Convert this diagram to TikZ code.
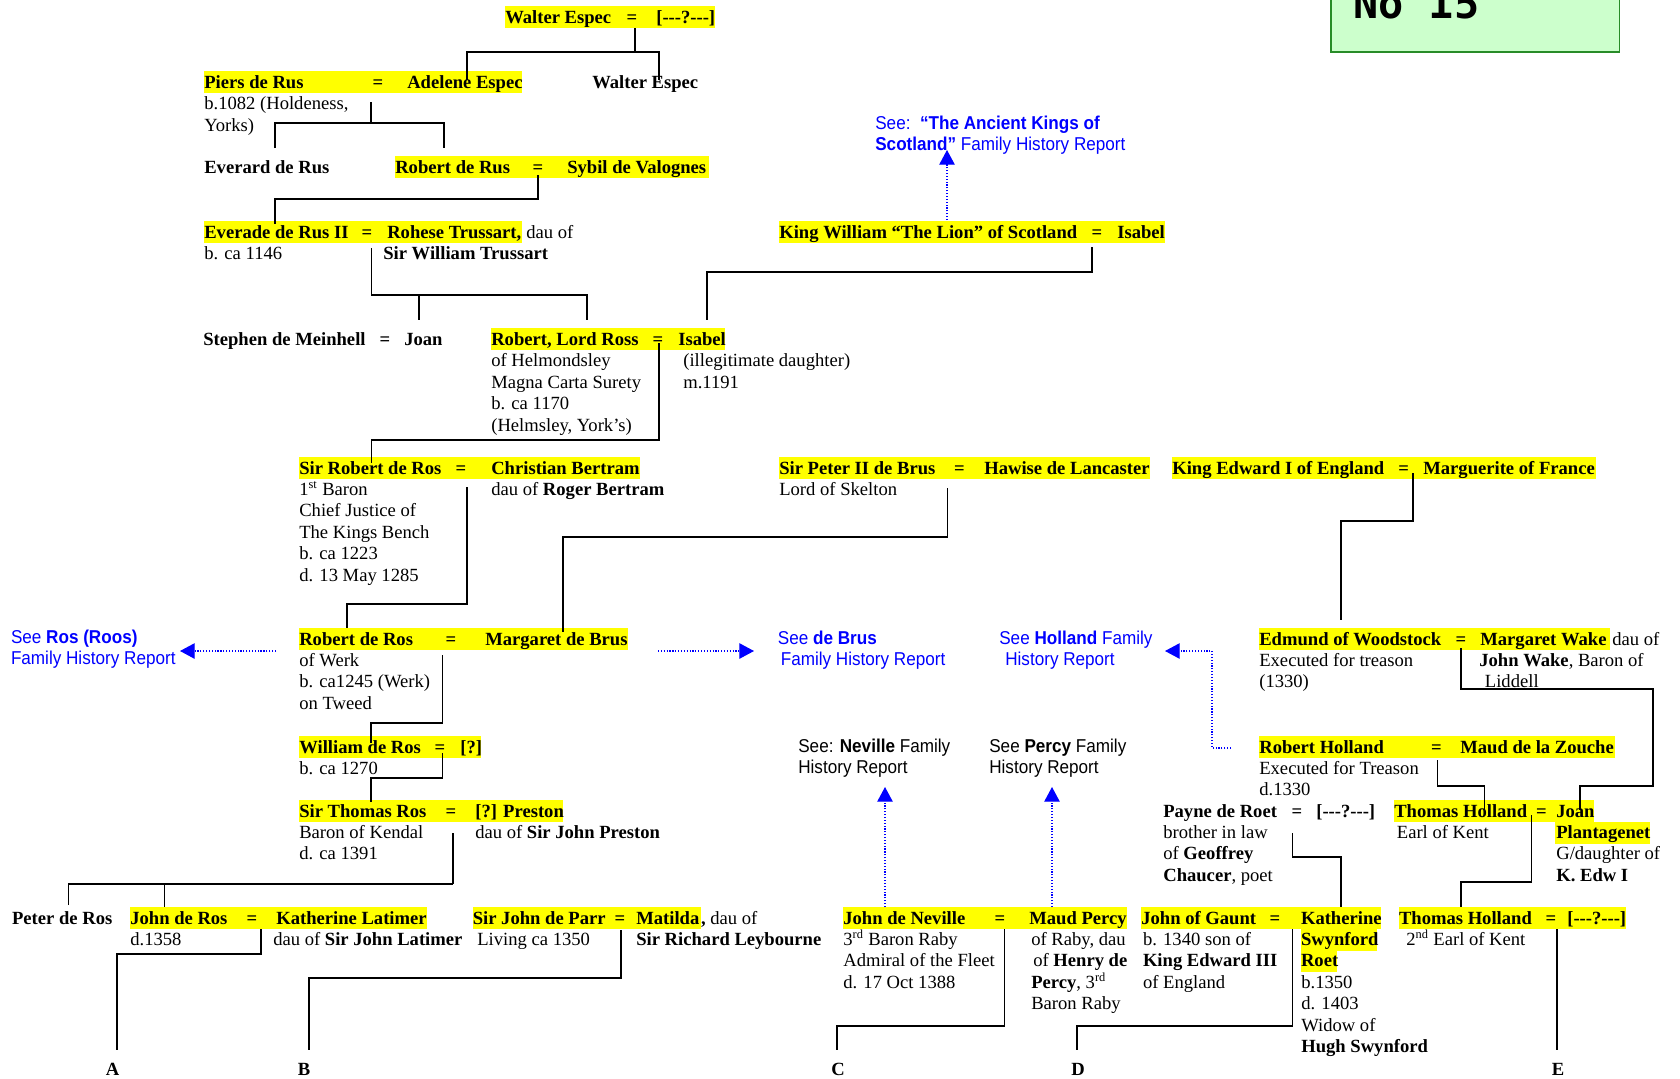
\documentclass[tikz,border=0pt]{standalone}
\usepackage{fontspec}
\setmainfont{Liberation Serif}
\newfontfamily\seefont[FakeStretch=0.92]{Liberation Sans}
\newfontfamily\boxmono{DejaVu Sans Mono}
\usetikzlibrary{arrows.meta}
\definecolor{hly}{RGB}{255,255,0}
\definecolor{boxfill}{RGB}{204,255,204}
\definecolor{boxline}{RGB}{40,140,40}
\definecolor{seeblue}{RGB}{0,0,255}
\newcommand{\hyq}{[-{}-{}-?-{}-{}-]}
\begin{document}
\begin{tikzpicture}[x=0.645pt,y=-0.645pt,
  txt/.style={anchor=base west,inner sep=0pt,font=\fontsize{12}{14}\selectfont},
  bld/.style={anchor=base west,inner sep=0pt,font=\fontsize{12}{14}\selectfont\bfseries},
  eqs/.style={anchor=base,inner sep=0pt,font=\fontsize{12}{14}\selectfont\bfseries},
  see/.style={anchor=base west,inner sep=0pt,font=\fontsize{12}{14}\selectfont\seefont,text=seeblue},
  seek/.style={anchor=base west,inner sep=0pt,font=\fontsize{12}{14}\selectfont\seefont},
  lab/.style={anchor=base,inner sep=0pt,font=\fontsize{12}{14}\selectfont\bfseries},
  hl/.style={fill=hly},
  ln/.style={line width=1pt},
  dotl/.style={draw=seeblue,line width=0.75pt,dash pattern=on 0.75pt off 1.1pt},
  tipa/.style={-{Triangle[length=9.5pt,width=10pt]},arrows={[fill=seeblue,color=seeblue]}}
]
\useasboundingbox (0,0) rectangle (1680,1078);
\clip (0,0) rectangle (1680,1078);

% ---------- No 15 box
\draw[draw=boxline,fill=boxfill,line width=1.2pt] (1331,-30) rectangle (1619.5,52);
\node[anchor=base west,inner sep=0pt,font=\fontsize{27}{30}\selectfont\boxmono\bfseries] (no15) at (1353,18) {No 15};

% ---------- highlights
\fill[hl] (505,6) rectangle (715,28);
\fill[hl] (204,71) rectangle (522,93);
\fill[hl] (395,156) rectangle (709,178);
\fill[hl] (204,221) rectangle (522,243);
\fill[hl] (779,221) rectangle (1165,243);
\fill[hl] (491,328) rectangle (725,350);
\fill[hl] (299,457) rectangle (639.5,479);
\fill[hl] (779,457) rectangle (1150,479);
\fill[hl] (1172,457) rectangle (1596,479);
\fill[hl] (299,628) rectangle (628,650);
\fill[hl] (1259,628) rectangle (1609.5,650);
\fill[hl] (299,736) rectangle (481,758);
\fill[hl] (1259,736) rectangle (1615,758);
\fill[hl] (299,800) rectangle (563,822);
\fill[hl] (1394,800) rectangle (1594,822);
\fill[hl] (1555,822) rectangle (1650,843.5);
\fill[hl] (130,907) rectangle (427,929);
\fill[hl] (472.5,907) rectangle (700.7,929);
\fill[hl] (843,907) rectangle (1126.6,929);
\fill[hl] (1141,907) rectangle (1381,929);
\fill[hl] (1300.7,929) rectangle (1377,950.5);
\fill[hl] (1300.7,950.5) rectangle (1337,972);
\fill[hl] (1398.7,907) rectangle (1626,929);

% ---------- row 1
\node[bld] (we1) at (505,23) {Walter Espec};
\node[eqs] (we1eq) at (632,23) {=};
\node[bld] (we1w) at (656,23) {\hyq};

% ---------- row 2
\node[bld] (piers) at (204,88) {Piers de Rus};
\node[eqs] (pierseq) at (378,88) {=};
\node[bld] (adelene) at (407,88) {Adelene Espec};
\node[bld] (we2) at (592,88) {Walter Espec};
\node[txt] (piers1) at (204,109.5) {b.1082 (Holdeness,};
\node[txt] (piers2) at (204,131) {Yorks)};

% ---------- row 3
\node[bld] (everard) at (204,173) {Everard de Rus};
\node[bld] (robrus) at (395,173) {Robert de Rus};
\node[eqs] (robruseq) at (538,173) {=};
\node[bld] (sybil) at (567,173) {Sybil de Valognes};

% ---------- row 4
\node[bld] (everade) at (204,238) {Everade de Rus II};
\node[eqs] (everadeeq) at (367,238) {=};
\node[bld] (rohese) at (387,238) {Rohese Trussart,};
\node[txt] (rohese0) at (526,238) {dau of};
\node[txt] (everade1) at (204,259.5) {b. ca 1146};
\node[bld] (rohese1) at (383,259.5) {Sir William Trussart};
\node[bld] (kingw) at (779,238) {King William “The Lion” of Scotland};
\node[eqs] (kingweq) at (1097,238) {=};
\node[bld] (isabel1) at (1117,238) {Isabel};
\node[see] (seekings1) at (875,129) {See:\ \ \textbf{“The Ancient Kings of}};
\node[see] (seekings2) at (875,150) {\textbf{Scotland”} Family History Report};

% ---------- row 5
\node[bld] (stephen) at (203,345) {Stephen de Meinhell};
\node[eqs] (stepheneq) at (385,345) {=};
\node[bld] (joan1) at (404,345) {Joan};
\node[bld] (robross) at (491,345) {Robert, Lord Ross};
\node[eqs] (robrosseq) at (658,345) {=};
\node[bld] (isabel2) at (678,345) {Isabel};
\node[txt] (robross1) at (491,366.5) {of Helmondsley};
\node[txt] (robross2) at (491,388) {Magna Carta Surety};
\node[txt] (robross3) at (491,409.5) {b. ca 1170};
\node[txt] (robross4) at (491,431) {(Helmsley, York’s)};
\node[txt] (isabel21) at (683,366.5) {(illegitimate daughter)};
\node[txt] (isabel22) at (683,388) {m.1191};

% ---------- row 6
\node[bld] (sirrob) at (299,474) {Sir Robert de Ros};
\node[eqs] (sirrobeq) at (461,474) {=};
\node[bld] (christian) at (491,474) {Christian Bertram};
\node[txt] (sirrob1) at (299,495.4) {1\textsuperscript{st} Baron};
\node[txt] (sirrob2) at (299,516.8) {Chief Justice of};
\node[txt] (sirrob3) at (299,538.2) {The Kings Bench};
\node[txt] (sirrob4) at (299,559.6) {b. ca 1223};
\node[txt] (sirrob5) at (299,581) {d. 13 May 1285};
\node[txt] (christian1) at (491,495.4) {dau of \textbf{Roger Bertram}};
\node[bld] (peter) at (779,474) {Sir Peter II de Brus};
\node[eqs] (petereq) at (959.5,474) {=};
\node[bld] (hawise) at (984,474) {Hawise de Lancaster};
\node[txt] (peter1) at (779,495.4) {Lord of Skelton};
\node[bld] (edw1) at (1172,474) {King Edward I of England};
\node[eqs] (edw1eq) at (1403.6,474) {=};
\node[bld] (marg) at (1423,474) {Marguerite of France};

% ---------- row 7
\node[see] (seeros1) at (10.7,643) {See \textbf{Ros (Roos)}};
\node[see] (seeros2) at (10.7,664.5) {Family History Report};
\node[bld] (robros) at (299,645) {Robert de Ros};
\node[eqs] (robroseq) at (451,645) {=};
\node[bld] (margbrus) at (485,645) {Margaret de Brus};
\node[txt] (robros1) at (299,666.4) {of Werk};
\node[txt] (robros2) at (299,687.8) {b. ca1245 (Werk)};
\node[txt] (robros3) at (299,709.2) {on Tweed};
\node[see] (seebrus1) at (777.6,644) {See \textbf{de Brus}};
\node[see] (seebrus2) at (780.5,665) {Family History Report};
\node[see] (seeholl1) at (999,644) {See \textbf{Holland} Family};
\node[see] (seeholl2) at (1005,665) {History Report};
\node[bld] (edmund) at (1259,645) {Edmund of Woodstock};
\node[eqs] (edmundeq) at (1461,645) {=};
\node[bld] (wake) at (1480,645) {Margaret Wake};
\node[txt] (wake0) at (1612,645) {dau of};
\node[txt] (edmund1) at (1259,666.4) {Executed for treason};
\node[txt] (edmund2) at (1259,687.8) {(1330)};
\node[txt] (wake1) at (1479,666.4) {\textbf{John Wake}, Baron of};
\node[txt] (wake2) at (1484.6,687.8) {Liddell};

% ---------- row 8
\node[bld] (william) at (299,753) {William de Ros};
\node[eqs] (williameq) at (440,753) {=};
\node[bld] (williamw) at (460,753) {[?]};
\node[txt] (william1) at (299,774.4) {b. ca 1270};
\node[seek] (seenev1) at (798,752) {See: \textbf{Neville} Family};
\node[seek] (seenev2) at (798,773) {History Report};
\node[seek] (seeper1) at (989,752) {See \textbf{Percy} Family};
\node[seek] (seeper2) at (989,773) {History Report};
\node[bld] (robholl) at (1259,753) {Robert Holland};
\node[eqs] (robholleq) at (1436.5,753) {=};
\node[bld] (maud) at (1460,753) {Maud de la Zouche};
\node[txt] (robholl1) at (1259,774.4) {Executed for Treason};
\node[txt] (robholl2) at (1259,795.8) {d.1330};

% ---------- row 9
\node[bld] (thomros) at (299,817) {Sir Thomas Ros};
\node[eqs] (thomroseq) at (451,817) {=};
\node[bld] (preston) at (475,817) {[?] Preston};
\node[txt] (thomros1) at (299,838.4) {Baron of Kendal};
\node[txt] (thomros2) at (299,859.8) {d. ca 1391};
\node[txt] (preston1) at (475,838.4) {dau of \textbf{Sir John Preston}};
\node[bld] (payne) at (1163,817) {Payne de Roet};
\node[eqs] (payneeq) at (1297,817) {=};
\node[bld] (paynew) at (1316,817) {\hyq};
\node[txt] (payne1) at (1163,838.4) {brother in law};
\node[txt] (payne2) at (1163,859.8) {of \textbf{Geoffrey}};
\node[txt] (payne3) at (1163,881.2) {\textbf{Chaucer}, poet};
\node[bld] (thomholl) at (1394,817) {Thomas Holland};
\node[eqs] (thomholleq) at (1541.5,817) {=};
\node[bld] (joan2) at (1556,817) {Joan};
\node[bld] (joan2b) at (1556,838.4) {Plantagenet};
\node[txt] (thomholl1) at (1396.6,838.4) {Earl of Kent};
\node[txt] (joan21) at (1556,859.8) {G/daughter of};
\node[bld] (joan22) at (1556,881.2) {K. Edw I};

% ---------- row 10
\node[bld] (peterros) at (11.8,924) {Peter de Ros};
\node[bld] (johnros) at (130,924) {John de Ros};
\node[eqs] (johnroseq) at (252,924) {=};
\node[bld] (kathlat) at (276,924) {Katherine Latimer};
\node[txt] (johnros1) at (130,945.4) {d.1358};
\node[txt] (kathlat1) at (273,945.4) {dau of \textbf{Sir John Latimer}};
\node[bld] (parr) at (472.5,924) {Sir John de Parr};
\node[eqs] (parreq) at (620,924) {=};
\node[bld] (matilda) at (636,924) {Matilda};
\node[txt] (matilda0) at (700.7,924) {\textbf{,} dau of};
\node[txt] (parr1) at (477,945.4) {Living ca 1350};
\node[bld] (matilda1) at (636,945.4) {Sir Richard Leybourne};
\node[bld] (neville) at (843,924) {John de Neville};
\node[eqs] (nevilleeq) at (1000,924) {=};
\node[bld] (maudp) at (1029,924) {Maud Percy};
\node[txt] (neville1) at (843,945.4) {3\textsuperscript{rd} Baron Raby};
\node[txt] (neville2) at (843,966.8) {Admiral of the Fleet};
\node[txt] (neville3) at (843,988.2) {d. 17 Oct 1388};
\node[txt] (maudp1) at (1031,945.4) {of Raby, dau};
\node[txt] (maudp2) at (1033,966.8) {of \textbf{Henry de}};
\node[txt] (maudp3) at (1031,988.2) {\textbf{Percy}, 3\textsuperscript{rd}};
\node[txt] (maudp4) at (1031,1009.6) {Baron Raby};
\node[bld] (gaunt) at (1141,924) {John of Gaunt};
\node[eqs] (gaunteq) at (1275,924) {=};
\node[bld] (kath) at (1300.7,924) {Katherine};
\node[bld] (kath1) at (1300.7,945.4) {Swynford};
\node[bld] (kath2) at (1300.7,966.8) {Roet};
\node[txt] (kath3) at (1301,988.2) {b.1350};
\node[txt] (kath4) at (1301,1009.6) {d. 1403};
\node[txt] (kath5) at (1301,1031) {Widow of};
\node[bld] (kath6) at (1301,1052.4) {Hugh Swynford};
\node[txt] (gaunt1) at (1142.7,945.4) {b. 1340 son of};
\node[bld] (gaunt2) at (1142.7,966.8) {King Edward III};
\node[txt] (gaunt3) at (1142.7,988.2) {of England};
\node[bld] (thomholl2) at (1398.7,924) {Thomas Holland};
\node[eqs] (thomholl2eq) at (1550.9,924) {=};
\node[bld] (thomholl2w) at (1567,924) {\hyq};
\node[txt] (thomholl21) at (1406,945.4) {2\textsuperscript{nd} Earl of Kent};

% ---------- bottom labels
\node[lab] (labA) at (112.5,1075) {A};
\node[lab] (labB) at (304,1075) {B};
\node[lab] (labC) at (838,1075) {C};
\node[lab] (labD) at (1078,1075) {D};
\node[lab] (labE) at (1558,1075) {E};

% ---------- connectors
\draw[ln] (635,28) coordinate (k1) -- (635,52);
\draw[ln] (467,80) -- (467,52) -- (659,52) -- (659,80);
\draw[ln] (371,102) coordinate (k2) -- (371,123);
\draw[ln] (275,148) -- (275,123) -- (444,123) -- (444,148);
\draw[ln] (538,175) coordinate (k3) -- (538,199) -- (275,199) -- (275,224);
\draw[ln] (371.5,248) coordinate (k4) -- (371.5,295) -- (587,295) -- (587,320);
\draw[ln] (419,295) -- (419,320);
\draw[ln] (1092,247) coordinate (k5) -- (1092,272) -- (707,272) -- (707,320);
\draw[ln] (659,343) coordinate (k6) -- (659,440) -- (371.5,440) -- (371.5,463);
\draw[ln] (467,487) coordinate (k7) -- (467,604) -- (347,604) -- (347,628);
\draw[ln] (947.5,488) coordinate (k8) -- (947.5,537) -- (563,537) -- (563,632);
\draw[ln] (1413,473) coordinate (k9) -- (1413,521) -- (1341,521) -- (1341,620);
\draw[ln] (1461,648) coordinate (k10) -- (1461,689) -- (1653,689) -- (1653,786) -- (1580,786) -- (1580,810);
\draw[ln] (442.5,655) coordinate (k11) -- (442.5,723) -- (371,723) -- (371,743);
\draw[ln] (442.5,753) coordinate (k12) -- (442.5,778) -- (371,778) -- (371,802);
\draw[ln] (453,833) coordinate (k13) -- (453,884);
\draw[ln] (68.6,905) -- (68.6,884) -- (453,884);
\draw[ln] (164.5,884) -- (164.5,907);
\draw[ln] (261,929) coordinate (k14) -- (261,954) -- (117,954) -- (117,1050);
\draw[ln] (621,930) coordinate (k15) -- (621,978) -- (309,978) -- (309,1050);
\draw[ln] (1004.5,929) coordinate (k16) -- (1004.5,1026) -- (837,1026) -- (837,1050);
\draw[ln] (1292.7,929) coordinate (k17) -- (1292.7,1026) -- (1077,1026) -- (1077,1050);
\draw[ln] (1292.7,833) coordinate (k18) -- (1292.7,857) -- (1341,857) -- (1341,907);
\draw[ln] (1437.6,760) coordinate (k19) -- (1437.6,786) -- (1484.6,786) -- (1484.6,810);
\draw[ln] (1531.5,815) coordinate (k20) -- (1531.5,882) -- (1461,882) -- (1461,907);
\draw[ln] (1556.8,929) coordinate (k21) -- (1556.8,1050);

% ---------- dotted references
\draw[dotl,tipa] (947,220) -- (947,150);
\draw[dotl,tipa] (276,651) -- (180,651);
\draw[dotl,tipa] (658,651) -- (754,651);
\draw[dotl,tipa] (1231,748) -- (1212,748) -- (1212,651) -- (1165,651);
\draw[dotl,tipa] (885,907) -- (885,787);
\draw[dotl,tipa] (1052,907) -- (1052,787);
\end{tikzpicture}
\end{document}
